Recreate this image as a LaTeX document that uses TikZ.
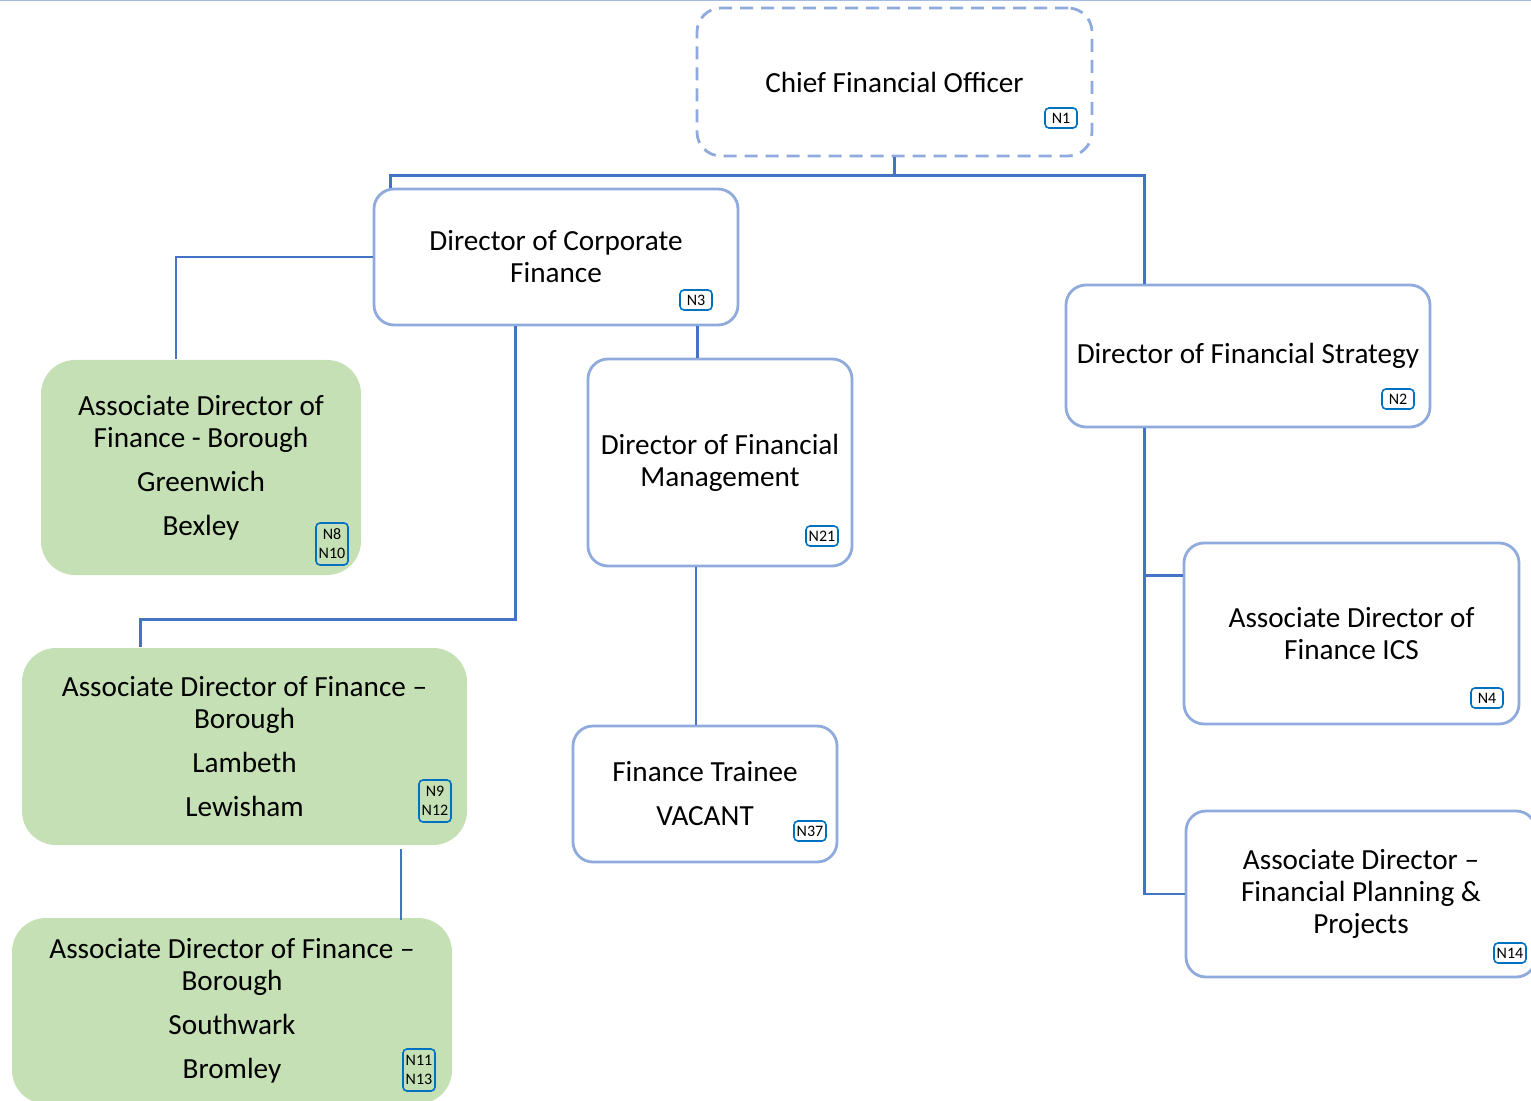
\documentclass[tikz,border=0pt]{standalone}
\usepackage{fontspec}
\setmainfont{Carlito}
\usetikzlibrary{calc,positioning}
\definecolor{boxline}{HTML}{8FAADC}
\definecolor{linkblue}{HTML}{4472C4}
\definecolor{tagblue}{HTML}{0070C0}
\definecolor{greenfill}{HTML}{C5E0B4}
\tikzstyle{box}=[draw=boxline, line width=1.4pt, rectangle, rounded corners=10pt, align=center, inner sep=2pt, font=\fontsize{14.6}{16}\selectfont]
\tikzstyle{greenbox}=[box, draw=none, fill=greenfill, rounded corners=17pt]
\tikzstyle{tag}=[draw=tagblue, line width=0.8pt, rounded corners=2pt, rectangle, align=center, inner sep=1pt, minimum width=16pt, minimum height=10pt, font=\fontsize{8}{9.5}\selectfont]
\tikzstyle{link}=[draw=linkblue, line width=1.2pt]

\begin{document}
\begin{tikzpicture}[x=0.5pt, y=-0.5pt]
\useasboundingbox (0,0) rectangle (1531,1101);
\draw [boxline!80, line width=0.6pt] (0,0.5) -- (1531,0.5);

\node (cfo) at (894.5,82) [box, dashed, dash pattern=on 6.5pt off 4pt, rounded corners=12pt, minimum width=197.5pt, minimum height=74pt] {Chief Financial Officer};
\node (corp) at (556,257) [box, minimum width=182pt, minimum height=68pt] {Director of Corporate\\Finance};
\node (strat) at (1248,356) [box, minimum width=182pt, minimum height=71pt] {Director of Financial Strategy};
\node (mgmt) at (720,462.5) [box, minimum width=132pt, minimum height=103.5pt] {Director of Financial\\Management};
\node (trainee) at (705,794) [box, minimum width=132pt, minimum height=68pt] {Finance Trainee\\[6pt]VACANT};
\node (ics) at (1351.5,633.5) [box, minimum width=167.5pt, minimum height=90.5pt] {Associate Director of\\Finance ICS};
\node (fpp) at (1361,894) [box, minimum width=175pt, minimum height=83pt] {Associate Director --\\Financial Planning \&\\Projects};
\node (greenwich) at (201,467.5) [greenbox, minimum width=160pt, minimum height=107.5pt] {Associate Director of\\Finance - Borough\\[6pt]Greenwich\\[6pt]Bexley};
\node (lambeth) at (244.5,746.5) [greenbox, minimum width=222.5pt, minimum height=98.5pt] {Associate Director of Finance --\\Borough\\[6pt]Lambeth\\[6pt]Lewisham};
\node (southwark) at (232,1011) [greenbox, minimum width=220pt, minimum height=93pt] {Associate Director of Finance --\\Borough\\[6pt]Southwark\\[6pt]Bromley};

% position tags
\node (cfotag) at (1061,118) [tag] {N1};
\node (corptag) at (696,300) [tag] {N3};
\node (strattag) at (1398,399) [tag] {N2};
\node (mgmttag) at (822,536) [tag] {N21};
\node (traineetag) at (810,831) [tag] {N37};
\node (icstag) at (1487,698) [tag] {N4};
\node (fpptag) at (1510,953) [tag] {N14};
\node (greenwichtag) at (332,544) [tag, minimum height=21pt] {N8\\N10};
\node (lambethtag) at (435,801) [tag, minimum height=21pt] {N9\\N12};
\node (southwarktag) at (419,1070) [tag, minimum height=21pt] {N11\\N13};

\draw [link, line width=1.5pt] (cfo.south) -- ++(0,18) -| ([xshift=9pt]corp.north west);
\draw [link] (cfo.south) -- ++(0,18) -| ([xshift=40pt]strat.north west);
\draw [link, line width=0.7pt] (corp.west) -| ([xshift=-12.5pt]greenwich.north);
\draw [link] ([xshift=71.5pt]corp.south west) -- ++(0,293) -| ([xshift=60pt]lambeth.north west);
\draw [link] ([xshift=-21pt]corp.south east) -- ([xshift=-21pt]corp.south east |- mgmt.north);
\draw [link] ([xshift=-12pt]mgmt.south) -- ([xshift=-12pt]mgmt.south |- trainee.north);
\draw [link] ([xshift=78.25pt,yshift=-1.5pt]lambeth.south) -- ([xshift=78.25pt,yshift=-1.5pt]lambeth.south |- southwark.north);
\draw [link] ([xshift=40pt]strat.south west) |- ([yshift=-17pt]ics.north west);
\draw [link] ([xshift=40pt]strat.south west) |- (fpp.west);
\end{tikzpicture}
\end{document}
